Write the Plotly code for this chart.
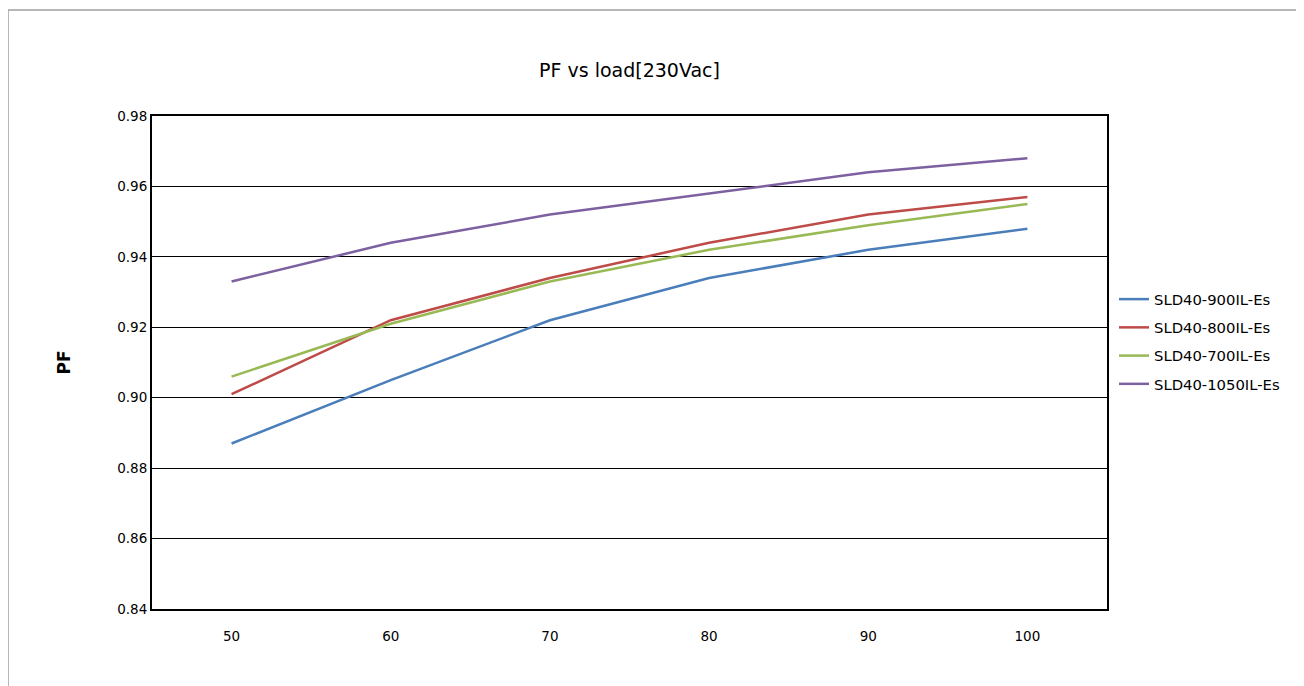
import plotly.graph_objects as go

loads = ["50", "60", "70", "80", "90", "100"]
pf_900 = [0.887, 0.905, 0.922, 0.934, 0.942, 0.948]
pf_800 = [0.901, 0.922, 0.934, 0.944, 0.952, 0.957]
pf_700 = [0.906, 0.921, 0.933, 0.942, 0.949, 0.955]
pf_1050 = [0.933, 0.944, 0.952, 0.958, 0.964, 0.968]

series = [
    ("SLD40-900IL-Es", pf_900, "#4a7ebb"),
    ("SLD40-800IL-Es", pf_800, "#be4b48"),
    ("SLD40-700IL-Es", pf_700, "#98b954"),
    ("SLD40-1050IL-Es", pf_1050, "#7d60a0"),
]

# page has an 8px body margin; work in page coords, then offset
OFF = 8
W, H = 1304 - 2 * OFF, 686 - OFF
L, R, T, B = 152 - OFF, 1107 - OFF, 116 - OFF, 609 - OFF

FONT = "DejaVu Sans, sans-serif"

fig = go.Figure()
for name, vals, col in series:
    fig.add_trace(go.Scatter(x=loads, y=vals, name=name, mode="lines",
                             legendgroup=name,
                             line=dict(color=col, width=2.5)))

pw, ph = R - L, B - T
def px(x): return (x - OFF - L) / pw
def py(y): return (B - (y - OFF)) / ph

fig.update_layout(
    width=W, height=H,
    margin=dict(l=L, r=W - R, t=T, b=H - B, autoexpand=False),
    paper_bgcolor="white", plot_bgcolor="white",
    font=dict(family=FONT, size=14, color="black"),
    title=dict(text="PF vs load[230Vac]", x=(0.5 * (152 + 1107) - OFF) / W, xanchor="center",
               y=1 - (70 - OFF) / H, yanchor="middle", font=dict(size=19)),
    showlegend=True,
    legend=dict(x=px(1114), y=py(283), xanchor="left", yanchor="top",
                font=dict(size=14.8), tracegroupgap=6, itemwidth=30,
                bgcolor="rgba(0,0,0,0)"),
    xaxis=dict(type="category", range=[-0.5, 5.5], showgrid=False,
               showline=True, linecolor="black", linewidth=2, mirror=True,
               ticks="", tickfont=dict(size=13.5), ticklabelstandoff=14),
    yaxis=dict(range=[0.84, 0.98], dtick=0.02, tickformat=".2f",
               showgrid=True, gridcolor="black", gridwidth=1,
               showline=True, linecolor="black", linewidth=2, mirror=True,
               ticks="", tickfont=dict(size=13.5), zeroline=False,
               title=dict(text="<b>PF</b>", font=dict(size=17), standoff=42)),
    shapes=[dict(type="rect", xref="paper", yref="paper",
                 x0=px(8), x1=px(1303), y0=py(690), y1=py(10),
                 line=dict(color="#a0a0a0", width=1.5), fillcolor="rgba(0,0,0,0)",
                 layer="below")],
)

fig.write_html("out.html")
